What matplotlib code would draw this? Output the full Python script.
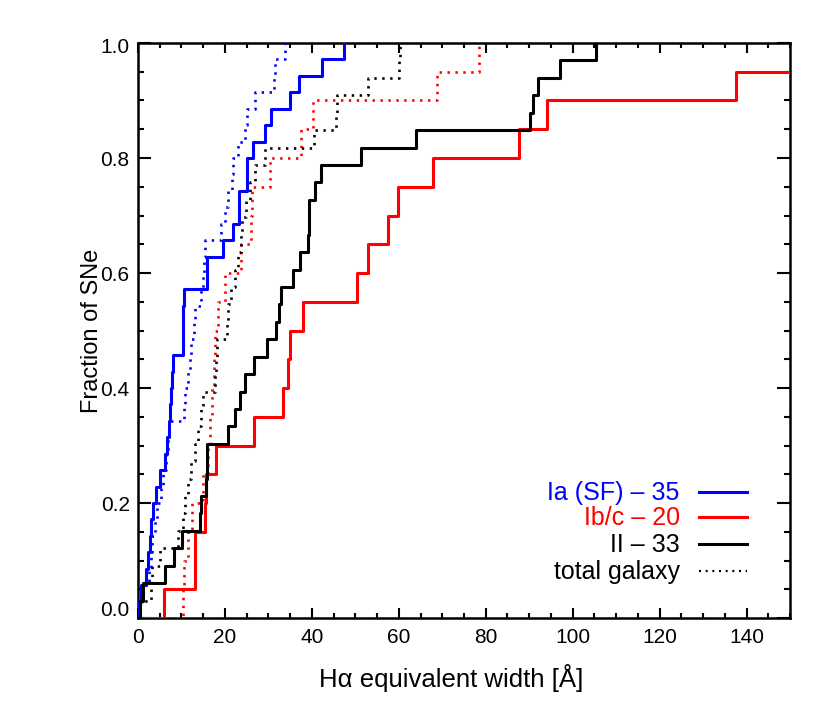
import numpy as np
import matplotlib
matplotlib.use("Agg")
import matplotlib.pyplot as plt
from matplotlib.ticker import MultipleLocator
from matplotlib.transforms import ScaledTranslation

plt.rcParams['font.family'] = ['Liberation Sans', 'DejaVu Sans']

# H-alpha equivalent widths
ia_sf = [0.2, 0.7, 1.8, 2.2, 2.8, 3.0, 3.5, 4.1, 5.1, 6.2, 6.6, 7.2, 7.4, 7.7, 7.9, 8.1,
         10.3, 10.4, 10.4, 10.5, 15.8, 15.8, 19.6, 21.9, 23.2, 23.2, 25.0, 25.0, 26.5,
         29.2, 30.7, 35.0, 37.0, 42.4, 47.5]
ia_sf_gal = [0.4, 1.2, 2.6, 2.9, 3.1, 3.9, 4.3, 5.4, 5.8, 6.4, 6.8, 7.2, 10.6, 10.7,
             11.5, 11.9, 12.1, 12.9, 13.1, 14.5, 15.0, 15.2, 15.4, 19.2, 19.9, 20.8,
             21.6, 21.9, 23.0, 24.6, 25.0, 26.9, 31.3, 31.5, 33.8]
ibc = [6.0, 13.0, 13.2, 15.5, 15.7, 17.9, 26.7, 33.3, 34.6, 35.0, 37.9, 50.4, 53.0,
       57.4, 59.9, 67.9, 87.6, 94.2, 137.6, 180.0]
ibc_gal = [10.4, 10.6, 11.6, 12.4, 15.0, 16.0, 16.6, 17.0, 17.4, 17.8, 18.3, 20.0,
           23.8, 26.1, 26.3, 30.4, 37.5, 40.2, 68.9, 78.5]
ii = [0.5, 1.2, 6.2, 8.2, 10.2, 14.2, 14.4, 15.7, 15.8, 15.9, 20.8, 22.3, 23.5, 24.6,
      26.7, 29.6, 31.7, 32.4, 33.0, 35.7, 37.3, 39.2, 39.3, 39.4, 40.7, 42.0, 51.2,
      64.0, 90.2, 90.9, 92.1, 97.1, 105.4]
ii_gal = [0.5, 3.0, 3.2, 5.1, 9.3, 10.3, 10.7, 11.5, 12.2, 13.2, 13.8, 14.6, 15.0,
          17.8, 18.0, 18.2, 20.4, 20.6, 21.5, 22.3, 22.9, 23.7, 24.0, 24.8, 25.8, 26.9,
          29.2, 40.4, 45.6, 45.8, 53.0, 60.0, 60.2]

labels = ["Ia (SF) \u2013 35", "Ib/c \u2013 20", "II \u2013 33", "total galaxy"]
colors = ["#0000ff", "#ff0000", "#000000", "#000000"]
yticks = [0.0, 0.2, 0.4, 0.6, 0.8, 1.0]
xticks = [0, 20, 40, 60, 80, 100, 120, 140]

dot = (0, (0.9, 2.1))


def cdf(vals):
    v = np.sort(np.asarray(vals, dtype=float))
    x = np.concatenate([[0.0], v])
    y = np.concatenate([[0.0], np.arange(1, len(v) + 1) / len(v)])
    return x, y


fig = plt.figure(figsize=(8.3, 7.06), dpi=100)
ax = fig.add_axes([0.1663, 0.1246, 0.7855, 0.8145])

for vals, c in [(ia_sf_gal, colors[0]), (ibc_gal, colors[1]), (ii_gal, colors[2])]:
    x, y = cdf(vals)
    ax.step(x, y, where='post', color=c, lw=1.9, ls=dot, zorder=3)
for vals, c in [(ia_sf, colors[0]), (ibc, colors[1]), (ii, colors[2])]:
    x, y = cdf(vals)
    ax.step(x, y, where='post', color=c, lw=2.2, zorder=3)

ax.set_xlim(0, 150)
ax.set_ylim(0, 1)
ax.set_xticks(xticks)
ax.set_yticks(yticks, ["%.1f" % v for v in yticks])
ax.xaxis.set_minor_locator(MultipleLocator(5))
ax.yaxis.set_minor_locator(MultipleLocator(0.05))
ax.tick_params(which='both', direction='in', top=True, right=True, width=1.5,
               labelsize=15)
ax.tick_params(axis='x', which='major', length=7.5, pad=7)
ax.tick_params(axis='x', which='minor', length=3.5)
ax.tick_params(axis='y', which='major', length=9.5, pad=6)
ax.tick_params(axis='y', which='minor', length=4.5)
for s in ax.spines.values():
    s.set_linewidth(1.8)

ax.set_xlabel("H\u03b1 equivalent width [\u00c5]", fontsize=18.5)
ax.set_ylabel("Fraction of SNe", fontsize=17)
ax.xaxis.set_label_coords(0.48, -0.08)
ax.yaxis.set_label_coords(-0.053, 0.5)

# end labels of the y axis sit a little inside, as in the original
yt = ax.yaxis.get_major_ticks()
yt[0].label1.set_transform(yt[0].label1.get_transform() +
                           ScaledTranslation(0, 10 / 100, fig.dpi_scale_trans))
yt[-1].label1.set_transform(yt[-1].label1.get_transform() +
                            ScaledTranslation(0, -3 / 100, fig.dpi_scale_trans))

# legend, text to the left of the line sample
rows = [0.206, 0.161, 0.115, 0.068]
for lab, c, yy, k in zip(labels, colors, rows, range(4)):
    ax.text(0.831, yy, lab, color=c, fontsize=18, ha='right', va='baseline',
            transform=ax.transAxes)
    ax.plot([0.860, 0.934], [yy + 0.014] * 2, color=c, lw=2.2 if k < 3 else 1.6,
            ls='-' if k < 3 else dot, transform=ax.transAxes)

fig.savefig("out.png", dpi=100)
